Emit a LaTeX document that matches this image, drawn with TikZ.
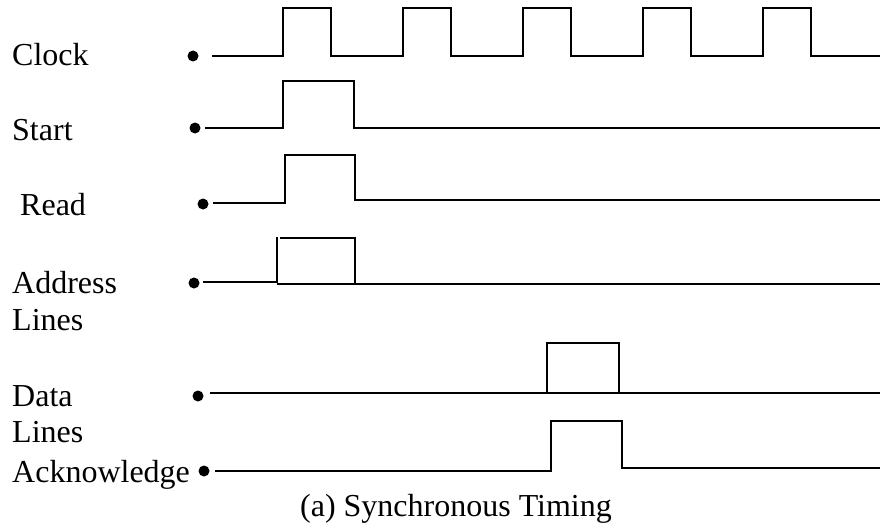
\documentclass[tikz,border=0pt]{standalone}
\usepackage{fontspec}
\setmainfont{Liberation Serif}
\begin{document}
\begin{tikzpicture}[x=1pt,y=-1pt,
  lbl/.style={font=\fontsize{32}{38}\selectfont, anchor=base west, inner sep=0pt},
  dotnode/.style={circle, fill=black, draw=none, inner sep=0pt, minimum size=11pt},
  wave/.style={draw=black, line width=2pt, line join=miter}]
\useasboundingbox (0,0) rectangle (880,527);
% labels
\node[lbl] (lclock) at (12,65) {Clock};
\node[lbl] (lstart) at (12,140) {Start};
\node[lbl] (lread) at (20,215) {Read};
\node[lbl] (laddr) at (12,293) {Address};
\node[lbl] (laddr2) at (12,330) {Lines};
\node[lbl] (ldata) at (12,406) {Data};
\node[lbl] (ldata2) at (12,442) {Lines};
\node[lbl] (lack) at (12,482) {Acknowledge};
\node[font=\fontsize{32}{38}\selectfont, anchor=base, inner sep=0pt] (cap) at (456,516) {(a) Synchronous Timing};
% dots
\node[dotnode] (dclock) at (193,56) {};
\node[dotnode] (dstart) at (195,128) {};
\node[dotnode] (dread) at (203,204) {};
\node[dotnode] (daddr) at (194,283) {};
\node[dotnode] (ddata) at (198,396) {};
\node[dotnode] (dack) at (204,471) {};
% clock
\coordinate (wclock) at (212,56.5);
\draw[wave] (wclock) -- (283,56.5) -- (283,8.3) -- (331,8.3) -- (331,56.5)
  -- (403,56.5) -- (403,8.3) -- (451,8.3) -- (451,56.5)
  -- (523,56.5) -- (523,8.3) -- (571,8.3) -- (571,56.5)
  -- (643,56.5) -- (643,8.3) -- (691,8.3) -- (691,56.5)
  -- (763,56.5) -- (763,8.3) -- (811,8.3) -- (811,56.5) -- (880,56.5);
% start
\coordinate (wstart) at (205,127.5);
\draw[wave] (wstart) -- (283,127.5) -- (283,81) -- (354,81) -- (354,128) -- (880,128);
% read
\coordinate (wread) at (213,203);
\draw[wave] (wread) -- (285,203) -- (285,155) -- (355,155) -- (355,200) -- (880,200);
% address
\coordinate (waddr) at (203,282);
\draw[wave] (waddr) -- (277,282) -- (277,237);
\draw[wave] (280,237.5) -- (354,237.5);
\draw[wave] (355,237) -- (355,284);
\draw[wave] (277,284) -- (880,284);
% data
\coordinate (wdata) at (210,393);
\draw[wave] (wdata) -- (880,393);
\draw[wave] (547,393) -- (547,343) -- (619,343) -- (619,393);
% acknowledge
\coordinate (wack) at (215,470.5);
\draw[wave] (wack) -- (551,470.5) -- (551,421) -- (622,421) -- (622,468) -- (880,468);
\end{tikzpicture}
\end{document}
